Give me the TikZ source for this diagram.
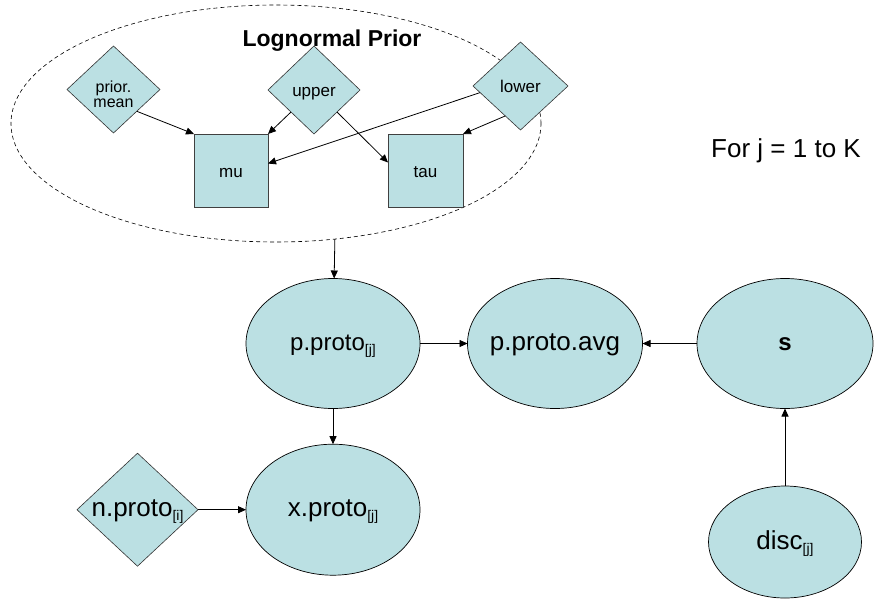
\documentclass[tikz,border=0pt]{standalone}
\usepackage{fontspec}
\setmainfont{Liberation Sans}
\usetikzlibrary{shapes.geometric,arrows.meta,calc}
\definecolor{nodefill}{RGB}{187,224,227}
\newcommand{\subidx}[1]{\raisebox{-4pt}{\fontsize{14}{14}\selectfont[#1]}}
\begin{document}
\begin{tikzpicture}[x=1pt,y=-1pt,
  arr/.style={-{Triangle[length=8pt,width=7pt]}, line width=0.8pt},
  dia/.style={diamond, draw=black!80, line width=0.6pt, fill=nodefill, inner sep=0pt, outer sep=0pt,
    font=\fontsize{17}{17}\selectfont, text height=13pt, text depth=0pt},
  sq/.style={rectangle, draw=black!75, line width=0.8pt, fill=nodefill, minimum width=74pt,
    minimum height=73pt, inner sep=0pt, outer sep=0pt, font=\fontsize{17}{17}\selectfont,
    text height=13pt, text depth=0pt},
  ell/.style={ellipse, draw=black, line width=0.7pt, fill=nodefill, inner sep=0pt, outer sep=0pt,
    font=\fontsize{26}{26}\selectfont, text height=14pt, text depth=0pt},
]
\fill[white] (0,0) rectangle (875,603);
\useasboundingbox (0,0) rectangle (875,603);

% prior group
\node[ellipse, draw=black, dash pattern=on 4pt off 3pt, line width=0.6pt, minimum width=530pt,
  minimum height=237pt, inner sep=0pt, outer sep=0pt] (prior) at (276,123.5) {};
\node[font=\bfseries\fontsize{23}{23}\selectfont, anchor=base] (title) at (332,46) {Lognormal Prior};

\node[dia, minimum width=93pt, minimum height=87pt, text height=36pt, font=\fontsize{16}{16}\selectfont]
  (pm) at (113.5,89.5) {\shortstack{prior.\\mean}};
\node[dia, minimum width=92pt, minimum height=88pt] (up) at (314,90) {upper};
\node[dia, minimum width=95pt, minimum height=88pt] (lw) at (520.5,86) {lower};
\node[sq] (mu) at (231,170.5) {mu};
\node[sq, minimum width=75pt] (tau) at (425.5,170.5) {tau};

\node[font=\fontsize{26}{26}\selectfont, anchor=base] (forj) at (786,157) {For j = 1 to K};

% main nodes
\node[ell, minimum width=174pt, minimum height=130pt, font=\fontsize{24}{24}\selectfont]
  (pp) at (333,343.5) {\makebox[0pt]{p.proto\subidx{j}}};
\node[ell, minimum width=175pt, minimum height=130pt] (avg) at (555,343.5) {\makebox[0pt]{p.proto.avg}};
\node[ell, minimum width=176pt, minimum height=130pt, font=\bfseries\fontsize{24}{24}\selectfont]
  (s) at (785,343.5) {\makebox[0pt]{s}};
\node[ell, minimum width=174pt, minimum height=131pt] (xp) at (333,509.7) {\makebox[0pt]{x.proto\subidx{j}}};
\node[dia, minimum width=121pt, minimum height=113pt, font=\fontsize{26}{26}\selectfont, text height=14pt]
  (np) at (137.5,509.7) {\makebox[0pt]{n.proto\subidx{i}}};
\node[ell, minimum width=153pt, minimum height=112pt] (disc) at (785,542) {\makebox[0pt]{disc\subidx{j}}};

% connectors
\draw[arr] (pm.south east) -- (mu.north west);
\draw[arr] (up.south west) -- (mu.north east);
\draw[arr] (up.south east) -- ([yshift=8pt]tau.west);
\draw[arr] ($(lw.west)!0.15!(lw.south)$) -- ([yshift=7pt]mu.east);
\draw[arr] ($(lw.west)!0.68!(lw.south)$) -- (tau.north east);
\draw[arr] (prior.-63.8) -- (pp);
\draw[arr] (pp) -- (avg);
\draw[arr] (s) -- (avg);
\draw[arr] (disc) -- (s);
\draw[arr] (pp) -- (xp);
\draw[arr] (np) -- (xp);
\end{tikzpicture}
\end{document}
